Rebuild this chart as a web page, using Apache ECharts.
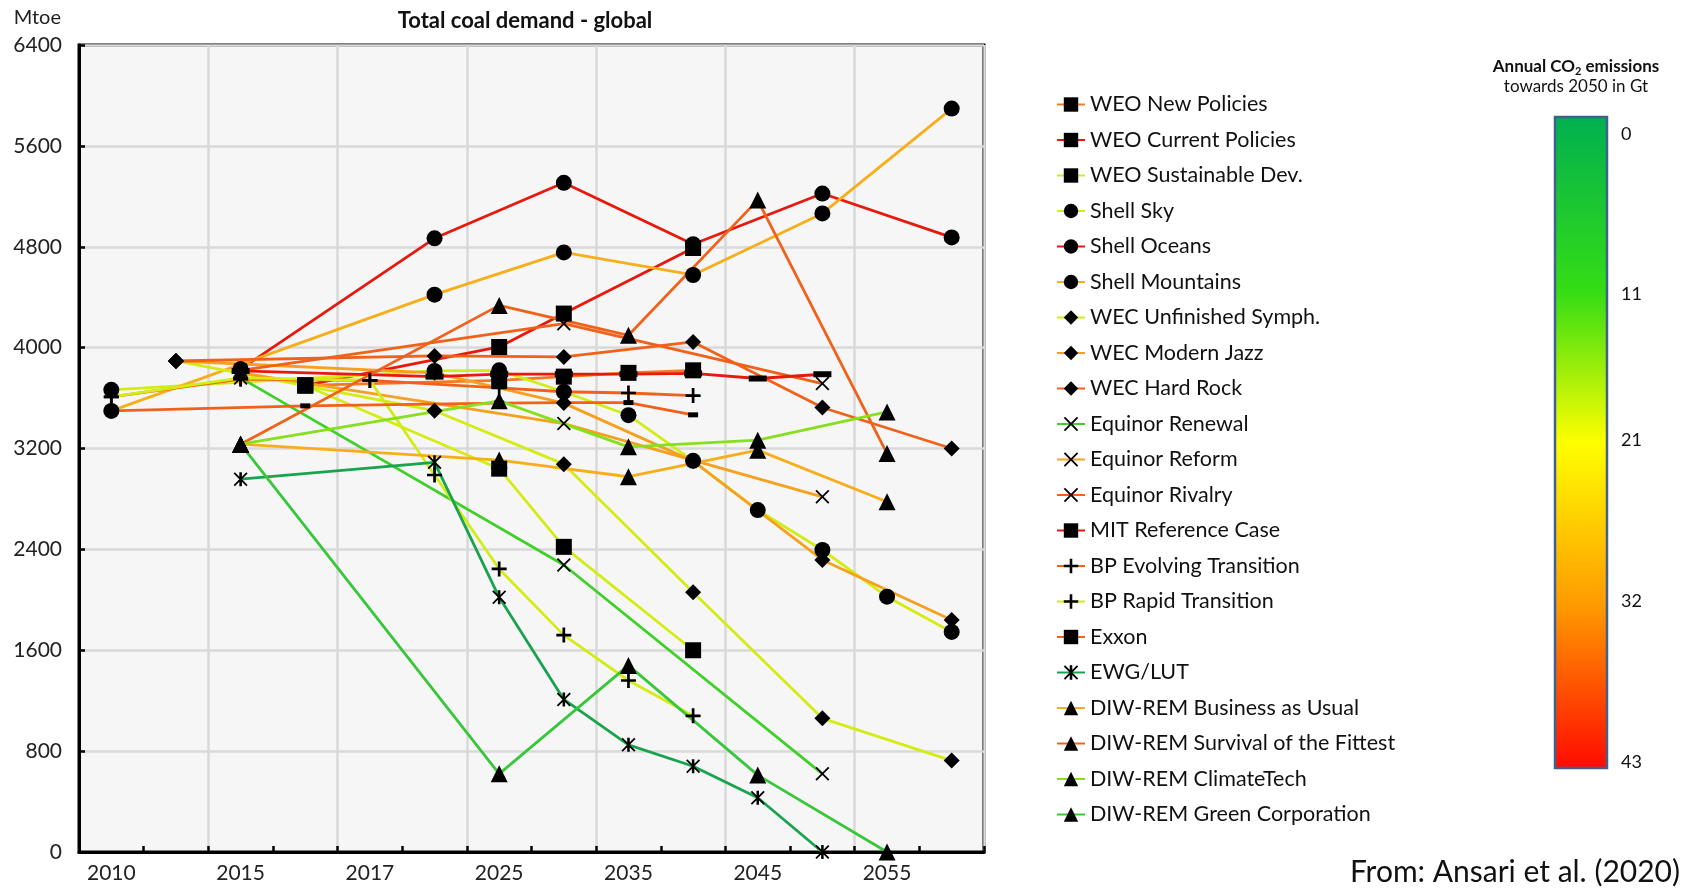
<!DOCTYPE html>
<html><head><meta charset="utf-8">
<script src="https://cdn.jsdelivr.net/npm/echarts@6/dist/echarts.min.js"></script>
<style>html,body{margin:0;padding:0;background:#fff}#c{width:1684px;height:890px}</style>
</head><body><div id="c"></div>
<script>
const N = null;
const years = ['2010','2014','2015','2016','2017','2020','2025','2030','2035','2040','2045','2050','2055','2060'];
const yTicks = {min: 0, max: 6400, step: 800};
const colorbarTicks = [0, 11, 21, 32, 43];

// values (Mtoe), one entry per category in `years`
const weoNewPolicies     = [N, N, N, 3700, N, N, 3740, 3770, 3800, 3820, N, N, N, N];
const weoCurrentPolicies = [N, N, N, 3700, N, N, 4005, 4270, N, 4790, N, N, N, N];
const weoSustainable     = [N, N, N, 3700, N, N, 3040, 2420, N, 1600, N, N, N, N];
const shellSky           = [3665, N, N, N, N, 3815, 3820, 3650, 3464, 3102, 2712, 2395, 2025, 1745];
const shellOceans        = [N, N, 3830, N, N, 4867, N, 5307, N, 4820, N, 5222, N, 4874];
const shellMountains     = [3498, N, N, N, N, 4420, N, 4755, N, 4576, N, 5064, N, 5896];
const wecUnfinished      = [N, 3894, N, N, N, 3500, N, 3076, N, 2060, N, 1060, N, 725];
const wecModernJazz      = [N, 3894, N, N, N, 3800, N, 3560, N, 3100, N, 2316, N, 1840];
const wecHardRock        = [N, 3894, N, N, N, 3934, N, 3926, N, 4045, N, 3525, N, 3200];
const equinorRenewal     = [N, N, 3760, N, N, N, N, 2276, N, N, N, 620, N, N];
const equinorReform      = [N, N, 3800, N, N, N, N, 3398, N, N, N, 2817, N, N];
const equinorRivalry     = [N, N, 3820, N, N, N, N, 4190, N, N, N, 3715, N, N];
const mitReference       = [N, N, 3815, N, N, 3770, 3790, 3790, 3790, 3795, 3755, 3789, N, N];
const bpEvolving         = [3609, N, 3750, N, 3740, N, 3680, 3650, 3640, 3620, N, N, N, N];
const bpRapid            = [3609, N, 3760, N, 3740, 2990, 2245, 1720, 1360, 1080, N, N, N, N];
const exxon              = [3498, N, N, 3538, N, N, 3560, 3564, 3564, 3467, N, N, N, N];
const ewgLut             = [N, N, 2957, N, N, 3090, 2020, 1210, 850, 680, 430, 0, N, N];
const diwBau             = [N, N, 3234, N, N, N, 3108, N, 2976, N, 3187, N, 2778, N];
const diwSurvival        = [N, N, 3234, N, N, N, 4335, N, 4098, N, 5170, N, 3160, N];
const diwClimateTech     = [N, N, 3234, N, N, N, 3578, N, 3213, N, 3266, N, 3490, N];
const diwGreenCorp       = [N, N, 3234, N, N, N, 620, N, 1480, N, 610, N, 0, N];

// styles
const RED = '#e8180c', ORED = '#f2611a', ORANGE = '#f6a01e', AMBER = '#f8ae1a',
      YG = '#d3ec14', LG = '#86e01e', G = '#3fd02a', GC = '#38c63a', DG = '#19a34e';
const PLUS = 'path://M4.1,0H5.9V4.1H10V5.9H5.9V10H4.1V5.9H0V4.1H4.1Z';
const CROSS = 'path://M0.9,0L5,4.1L9.1,0L10,0.9L5.9,5L10,9.1L9.1,10L5,5.9L0.9,10L0,9.1L4.1,5L0,0.9Z';
const ASTER = 'path://M0.9,0L5,4.1L9.1,0L10,0.9L5.9,5L10,9.1L9.1,10L5,5.9L0.9,10L0,9.1L4.1,5L0,0.9Z M4.1,0H5.9V10H4.1Z';

const defs = [
  ['WEO New Policies', weoNewPolicies, '#f47a1e', 'rect', 16],
  ['WEO Current Policies', weoCurrentPolicies, RED, 'rect', 16],
  ['WEO Sustainable Dev.', weoSustainable, YG, 'rect', 16],
  ['Shell Sky', shellSky, YG, 'circle', 16],
  ['Shell Oceans', shellOceans, RED, 'circle', 16],
  ['Shell Mountains', shellMountains, AMBER, 'circle', 16],
  ['WEC Unfinished Symph.', wecUnfinished, YG, 'diamond', 16],
  ['WEC Modern Jazz', wecModernJazz, ORANGE, 'diamond', 16],
  ['WEC Hard Rock', wecHardRock, ORED, 'diamond', 16],
  ['Equinor Renewal', equinorRenewal, G, CROSS, 14],
  ['Equinor Reform', equinorReform, ORANGE, CROSS, 14],
  ['Equinor Rivalry', equinorRivalry, ORED, CROSS, 14],
  ['MIT Reference Case', mitReference, RED, 'rect', [18, 6]],
  ['BP Evolving Transition', bpEvolving, ORED, PLUS, 15],
  ['BP Rapid Transition', bpRapid, YG, PLUS, 15],
  ['Exxon', exxon, ORED, 'rect', [10, 5]],
  ['EWG/LUT', ewgLut, DG, ASTER, 14],
  ['DIW-REM Business as Usual', diwBau, AMBER, 'triangle', 17],
  ['DIW-REM Survival of the Fittest', diwSurvival, ORED, 'triangle', 17],
  ['DIW-REM ClimateTech', diwClimateTech, LG, 'triangle', 17],
  ['DIW-REM Green Corporation', diwGreenCorp, GC, 'triangle', 17]
];

const FONT = 'Lato';
const series = defs.map(([name, data, color, symbol, size]) => ({
  name, type: 'line', data, connectNulls: true,
  symbol, symbolSize: size, showAllSymbol: true,
  color: color,
  lineStyle: {color, width: 2.8},
  itemStyle: {color: '#000', borderWidth: 0},
  emphasis: {disabled: true},
  animation: false
}));

// colorbar geometry (label placement fitted to the printed scale)
const cb = {x: 1555, y: 117, w: 52, h: 651, min: 0, max: 43, labelTop: 134, labelStep: 14.6};
const cbGraphics = [
  {type: 'rect', shape: {x: cb.x, y: cb.y, width: cb.w, height: cb.h},
   style: {fill: new echarts.graphic.LinearGradient(0, 0, 0, 1, [
      {offset: 0, color: '#00b050'},
      {offset: 0.27, color: '#35dd14'},
      {offset: 0.5, color: '#ffff00'},
      {offset: 0.75, color: '#ff9a00'},
      {offset: 1, color: '#ff0a00'}]),
     stroke: '#41608c', lineWidth: 2.5}},
  {type: 'text', x: 1576, y: 67, style: {
     text: '{a|Annual CO}{s|2}{a| emissions}', align: 'center', verticalAlign: 'middle',
     rich: {a: {fontFamily: FONT, fontSize: 17, fontWeight: 'bold', fill: '#111', lineHeight: 20},
            s: {fontFamily: FONT, fontSize: 11, fontWeight: 'bold', fill: '#111', verticalAlign: 'bottom', lineHeight: 13, padding: [7, 0, 0, 0]}}}},
  {type: 'text', x: 1576, y: 87, style: {text: 'towards 2050 in Gt', align: 'center', verticalAlign: 'middle',
     fontFamily: FONT, fontSize: 17, fill: '#111'}}
].concat(colorbarTicks.map(t => ({
  type: 'text', x: 1621, y: cb.labelTop + (t - cb.min) * cb.labelStep,
  style: {text: String(t), align: 'left', verticalAlign: 'middle', fontFamily: FONT, fontSize: 18, fill: '#111'}
})));

const option = {
  animation: false,
  backgroundColor: '#fff',
  textStyle: {fontFamily: FONT},
  title: {text: 'Total coal demand - global', left: 520, top: 5, textAlign: 'center',
    textStyle: {fontFamily: FONT, fontSize: 22, fontWeight: 'bold', color: '#111'}},
  grid: {left: 79, top: 45, width: 905, height: 807, show: true,
    backgroundColor: '#f6f6f6', borderColor: '#000', borderWidth: 3},
  xAxis: {
    type: 'category', data: years, boundaryGap: true,
    axisLine: {show: true, lineStyle: {color: '#000', width: 3}},
    axisTick: {show: true, inside: true, interval: 0, length: 6, lineStyle: {color: '#000', width: 2.5}},
    axisLabel: {interval: 1, margin: 11, fontFamily: FONT, fontSize: 21, color: '#222'},
    splitLine: {show: true, interval: 1, lineStyle: {color: '#d9d9d9', width: 2.5}}
  },
  yAxis: {
    type: 'value', min: yTicks.min, max: yTicks.max, interval: yTicks.step,
    axisLine: {show: true, lineStyle: {color: '#000', width: 3}},
    axisTick: {show: true, inside: true, length: 6, lineStyle: {color: '#000', width: 2.5}},
    axisLabel: {margin: 17, fontFamily: FONT, fontSize: 21, color: '#222', formatter: v => String(v)},
    splitLine: {show: true, lineStyle: {color: '#d9d9d9', width: 2.5}}
  },
  legend: {
    orient: 'vertical', left: 1051, top: 88, selectedMode: false,
    data: defs.map(d => d[0]),
    itemWidth: 28, itemHeight: 18, itemGap: 12.5,
    textStyle: {fontFamily: FONT, fontSize: 21.5, color: '#111', lineHeight: 23}
  },
  graphic: [
    {type: 'text', x: 61, y: 18, style: {text: 'Mtoe', align: 'right', verticalAlign: 'middle', fontFamily: FONT, fontSize: 20, fill: '#222'}},
    {type: 'text', x: 1680, y: 872, style: {text: 'From: Ansari et al. (2020)', align: 'right', verticalAlign: 'middle', fontFamily: FONT, fontSize: 30, fill: '#111'}}
  ].concat(cbGraphics),
  series
};
const chart = echarts.init(document.getElementById('c'), null, {renderer: 'canvas'});
chart.setOption(option);
</script></body></html>
